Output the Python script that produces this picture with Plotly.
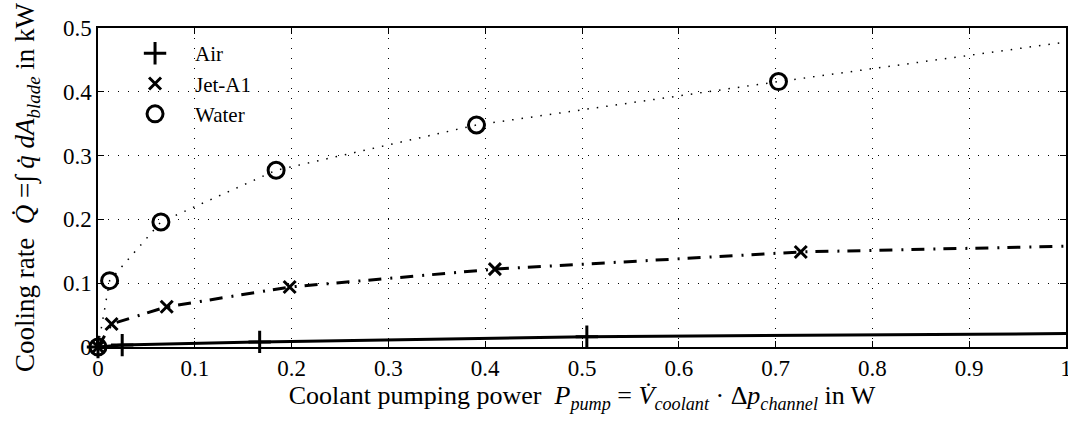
import plotly.graph_objects as go

# Data
air_x = [0, 0.025, 0.167, 0.505]
air_y = [0, 0.003, 0.008, 0.016]
air_end = 0.021

jet_x = [0, 0.014, 0.071, 0.198, 0.41, 0.726]
jet_y = [0, 0.036, 0.063, 0.094, 0.122, 0.149]
jet_end = 0.158

water_x = [0, 0.012, 0.065, 0.184, 0.391, 0.703]
water_y = [0, 0.104, 0.196, 0.277, 0.348, 0.416]
water_end = 0.478

x_end = 1.0
x_ticks = [0, 0.1, 0.2, 0.3, 0.4, 0.5, 0.6, 0.7, 0.8, 0.9, 1]
x_ticklabels = ["0", "0.1", "0.2", "0.3", "0.4", "0.5", "0.6", "0.7", "0.8", "0.9", "1"]
y_ticks = [0, 0.1, 0.2, 0.3, 0.4, 0.5]
y_ticklabels = ["0", "0.1", "0.2", "0.3", "0.4", "0.5"]

FONT = "Liberation Serif"

fig = go.Figure()

# lines (no legend)
fig.add_trace(go.Scatter(x=water_x + [x_end], y=water_y + [water_end], mode="lines",
                         line=dict(color="black", width=1.5, dash="1.5px,8px"),
                         showlegend=False, hoverinfo="skip"))
fig.add_trace(go.Scatter(x=jet_x + [x_end], y=jet_y + [jet_end], mode="lines",
                         line=dict(color="black", width=3, dash="13px,9px,2px,8px"),
                         showlegend=False, hoverinfo="skip"))
fig.add_trace(go.Scatter(x=air_x + [x_end], y=air_y + [air_end], mode="lines",
                         line=dict(color="black", width=3),
                         showlegend=False, hoverinfo="skip"))

# markers (legend)
fig.add_trace(go.Scatter(x=air_x, y=air_y, mode="markers", name="Air", cliponaxis=False,
                         marker=dict(symbol="cross-thin", size=16, color="black",
                                     line=dict(color="black", width=3))))
fig.add_trace(go.Scatter(x=jet_x, y=jet_y, mode="markers", name="Jet-A1", cliponaxis=False,
                         marker=dict(symbol="x-thin", size=12, color="black",
                                     line=dict(color="black", width=3))))
fig.add_trace(go.Scatter(x=water_x, y=water_y, mode="markers", name="Water", cliponaxis=False,
                         marker=dict(symbol="circle-open", size=16, color="black",
                                     line=dict(color="black", width=3))))

axis_common = dict(
    showline=True, linecolor="black", linewidth=1.5, mirror="ticks",
    ticks="inside", ticklen=6, tickwidth=1.2, tickcolor="black",
    showgrid=True, gridcolor="black", gridwidth=1, griddash="1px,9px",
    zeroline=False, tickfont=dict(family=FONT, size=23, color="black"),
    ticklabeloverflow="allow", automargin=False,
)

fig.update_xaxes(range=[0, 1], tickvals=x_ticks, ticktext=x_ticklabels,
                 title=dict(text="Coolant pumping power  <i>P</i><sub><i>pump</i></sub> = <i>V̇</i><sub><i>coolant</i></sub> · Δ<i>p</i><sub><i>channel</i></sub> in W",
                            font=dict(family=FONT, size=26, color="black"), standoff=2),
                 **axis_common)
fig.update_yaxes(range=[0, 0.5], tickvals=y_ticks, ticktext=y_ticklabels,
                 title=dict(text="Cooling rate  <i>Q̇</i> =∫ <i>q̇ dA</i><sub><i>blade</i></sub> in kW",
                            font=dict(family=FONT, size=27, color="black"), standoff=20),
                 **axis_common)

fig.update_layout(
    width=1068, height=423,
    margin=dict(l=98, r=2, t=28, b=76),
    paper_bgcolor="white", plot_bgcolor="white",
    font=dict(family=FONT, size=22, color="black"),
    legend=dict(x=0.0176, y=0.984, xanchor="left", yanchor="top", itemwidth=70,
                bgcolor="rgba(0,0,0,0)", borderwidth=0, tracegroupgap=0,
                font=dict(family=FONT, size=21, color="black")),
)

fig.write_html("out.html")
